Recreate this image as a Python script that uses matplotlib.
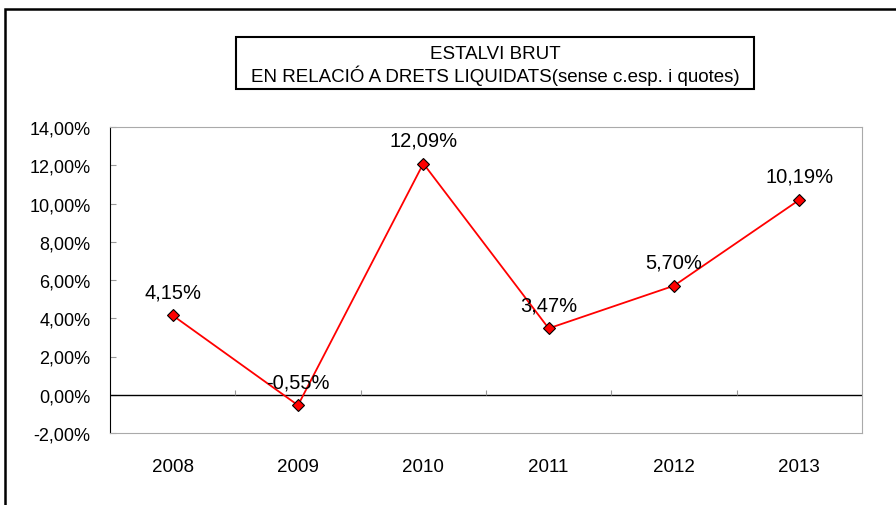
import numpy as np
import matplotlib.pyplot as plt
from matplotlib.patches import Rectangle

plt.rcParams['font.family'] = ['Liberation Sans', 'DejaVu Sans']

years = ['2008', '2009', '2010', '2011', '2012', '2013']
values = [4.15, -0.55, 12.09, 3.47, 5.70, 10.19]
yticks = [-2, 0, 2, 4, 6, 8, 10, 12, 14]


def fmt(v):
    return ('%.2f%%' % v).replace('.', ',')


fig = plt.figure(figsize=(8.96, 5.06), dpi=100)
ax = fig.add_axes([110 / 896, 72 / 506, 752 / 896, 306 / 506])

x = np.arange(len(years))
ax.plot(x, values, color='#ff0000', lw=1.3, marker='D', ms=6,
        mfc='#ff0000', mec='black', mew=0.8, zorder=3)
for xi, v in zip(x, values):
    ax.annotate(fmt(v), (xi, v), xytext=(0, 17), textcoords='offset points',
                ha='center', va='center', fontsize=14.5)

ax.axhline(0, color='black', lw=1)
ax.vlines(x[:-1] + 0.5, 0, 0.27, color='#999999', lw=0.8)

ax.set_xlim(-0.5, len(years) - 0.5)
ax.set_ylim(-2, 14)
ax.set_xticks(x)
ax.set_xticklabels(years, fontsize=13.5)
ax.set_yticks(yticks)
ax.set_yticklabels([fmt(t) for t in yticks], fontsize=13)
ax.tick_params(axis='x', length=0, pad=18)
ax.tick_params(axis='y', direction='in', length=4, color='#999999', pad=14)

for s in ['top', 'right', 'bottom']:
    ax.spines[s].set_color('#aaaaaa')
ax.spines['left'].set_color('black')

# title box
fig.text(495 / 896, 1 - 66 / 506,
         'ESTALVI BRUT\nEN RELACIÓ A DRETS LIQUIDATS(sense c.esp. i quotes)',
         ha='center', va='center', fontsize=13.5, linespacing=1.15)
fig.patches.append(Rectangle((236 / 896, 1 - 90 / 506), 518 / 896, 52 / 506,
                             transform=fig.transFigure, fill=False,
                             ec='black', lw=1.5))
# outer frame
fig.patches.append(Rectangle((4.5 / 896, -0.1), 1.2, 1 - 10 / 506 + 0.1,
                             transform=fig.transFigure, fill=False,
                             ec='black', lw=1.8))

fig.savefig('out.png', dpi=100)
